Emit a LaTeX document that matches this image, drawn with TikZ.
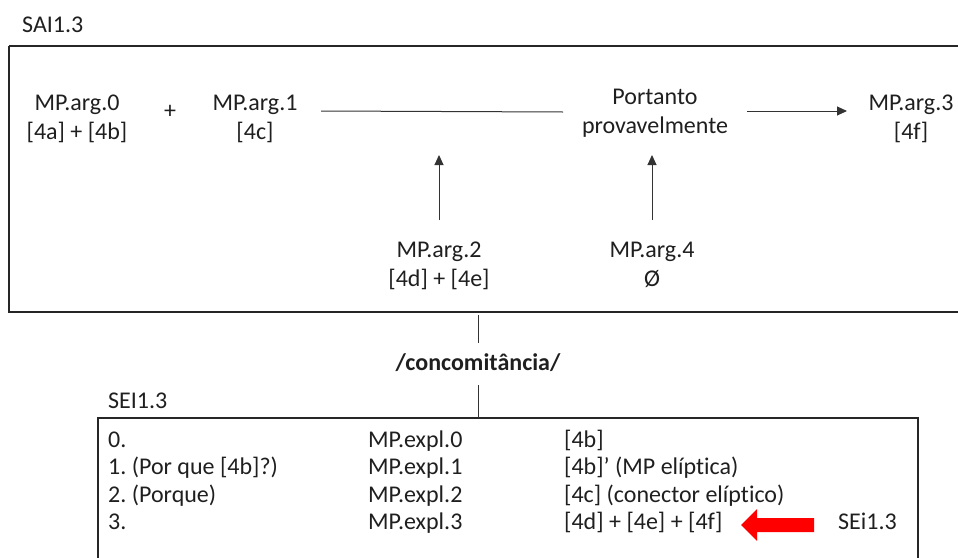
\documentclass[tikz,border=0pt]{standalone}
\usepackage{fontspec}
\setmainfont{Carlito}[RawFeature={-liga}]
\usetikzlibrary{arrows.meta}
\frenchspacing
\begin{document}
\begin{tikzpicture}[x=1pt,y=-1pt,
  txt/.style={inner sep=0pt,font=\fontsize{24}{29}\selectfont,align=center,text=black!88},
  cell/.style={inner sep=0pt,font=\fontsize{24}{28}\selectfont,anchor=base west,text=black!88},
  frame/.style={draw=black!85,line width=1.8pt},
  conn/.style={draw=black!80,line width=1pt},
  arr/.style={conn,-{Triangle[length=10pt,width=9pt]}}]
\useasboundingbox (0,0) rectangle (958,557);
\clip (0,0) rectangle (958,557);
% boxes
\draw[frame] (9,46) -- (970,46) (9,46) -- (9,312) -- (970,312);
\draw[frame] (98,600) -- (98,418) -- (918,418) -- (918,600);
% top labels
\node[txt,anchor=base west] (sai) at (22,32) {SAI1.3};
\node[txt] (m0) at (77,118.5) {MP.arg.0\\{[4a]} + [4b]};
\node[txt] (plus) at (170,112) {+};
\node[txt] (m1) at (255,118.5) {MP.arg.1\\{[4c]}};
\node[txt] (pp) at (655,113.5) {Portanto\\provavelmente};
\node[txt] (m3) at (911,118.5) {MP.arg.3\\{[4f]}};
\node[txt] (m2) at (439,265.5) {MP.arg.2\\{[4d]} + [4e]};
\node[txt] (m4) at (652,264.5) {MP.arg.4\\Ø};
% connectors
\coordinate (l1) at (321,111);
\coordinate (l2) at (563,112);
\draw[conn] (l1) -- (l2);
\coordinate (a1) at (747,111);
\coordinate (a2) at (847,111);
\draw[arr] (a1) -- (a2);
\draw[arr] (m2.north |- 0,220) -- (m2.north |- 0,155);
\draw[arr] (m4.north |- 0,220) -- (m4.north |- 0,155);
% concomitancia
\node[txt,font=\fontsize{24}{29}\selectfont\bfseries,anchor=base] (conc) at (478,370) {/concomitância/};
\coordinate (v1) at (478,315);
\coordinate (v2) at (478,343);
\coordinate (v3) at (478,385);
\coordinate (v4) at (478,418);
\draw[conn] (v1) -- (v2);
\draw[conn] (v3) -- (v4);
% lower box
\node[txt,anchor=base west] (sei) at (108,408) {SEI1.3};
\node[cell] (r0a) at (108,447) {0.};
\node[cell] (r1a) at (108,474.5) {1. (Por que [4b]?)};
\node[cell] (r2a) at (108,502) {2. (Porque)};
\node[cell] (r3a) at (108,529.5) {3.};
\node[cell] (r0b) at (368,447) {MP.expl.0};
\node[cell] (r1b) at (368,474.5) {MP.expl.1};
\node[cell] (r2b) at (368,502) {MP.expl.2};
\node[cell] (r3b) at (368,529.5) {MP.expl.3};
\node[cell] (r0c) at (564,447) {[4b]};
\node[cell] (r1c) at (564,474.5) {[4b]’ (MP elíptica)};
\node[cell] (r2c) at (564,502) {[4c] (conector elíptico)};
\node[cell] (r3c) at (564,529.5) {[4d] + [4e] + [4f]};
\node[cell] (sei2) at (838,529.5) {SEi1.3};
% red block arrow
\fill[red] (741,525) -- (757,509) -- (757,518) -- (814,518) -- (814,532) -- (757,532) -- (757,541) -- cycle;
\end{tikzpicture}
\end{document}
